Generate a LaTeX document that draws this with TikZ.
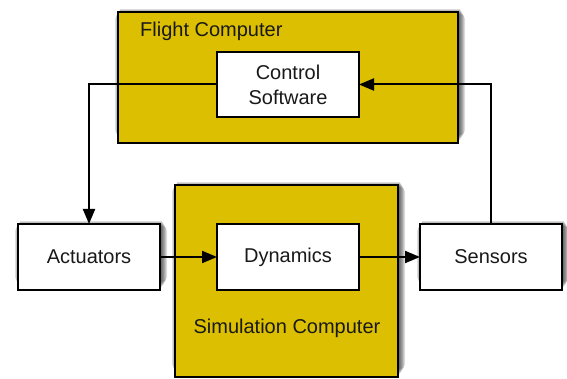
\documentclass[tikz,border=0pt]{standalone}
\usepackage{fontspec}
\setmainfont{Liberation Sans}
\usetikzlibrary{arrows.meta,backgrounds}
\definecolor{gold}{RGB}{219,191,0}
% soft shadow behind a named node, built from stacked translucent rectangles
\newcommand{\softshadow}[1]{%
  \foreach \r in {0,...,5}{%
    \fill[black, opacity=0.13, rounded corners=\r pt]
      ([xshift=2pt-\r pt, yshift=3pt+\r pt]#1.south west) rectangle
      ([xshift=2pt+\r pt, yshift=3pt-\r pt]#1.north east);
  }}
\begin{document}
\begin{tikzpicture}[x=1pt,y=-1pt,
  boxbase/.style={draw=black, line width=2pt, rectangle, inner sep=0pt, outer sep=0pt,
    font=\fontsize{20}{25}\selectfont, text=black!90, align=center},
  computer/.style={boxbase, fill=gold},
  unit/.style={boxbase, fill=white, minimum width=142pt, minimum height=66pt},
  caption/.style={font=\fontsize{20}{25}\selectfont, text=black!90, inner sep=0pt},
  arr/.style={line width=2pt, -{Triangle[length=15pt,width=12pt]}}
]
\useasboundingbox (0,0) rectangle (567,379);

% enclosing computers
\node[computer, minimum width=340pt, minimum height=131pt] (fc) at (288,77.5) {};
\node[computer, minimum width=223pt, minimum height=192pt] (sc) at (286.5,281) {};
\node[caption, anchor=west] (fclabel) at (140,31) {Flight Computer};
\node[caption] (sclabel) at (287,328) {Simulation Computer};

% functional blocks
\node[unit, minimum height=65pt] (cs) at (288,84.5) {Control\\Software};
\node[unit] (act) at (89,257) {Actuators};
\node[unit] (dyn) at (288,257) {Dynamics};
\node[unit] (sen) at (491,257) {Sensors};

% shadows
\begin{pgfonlayer}{background}
  \softshadow{fc}
  \softshadow{sc}
  \softshadow{act}
  \softshadow{sen}
\end{pgfonlayer}

% signal flow
\draw[arr] (cs.west) -| (act.north);
\draw[arr] (act) -- (dyn);
\draw[arr] (dyn) -- (sen);
\draw[arr] (sen.north) |- (cs.east);
\end{tikzpicture}
\end{document}
